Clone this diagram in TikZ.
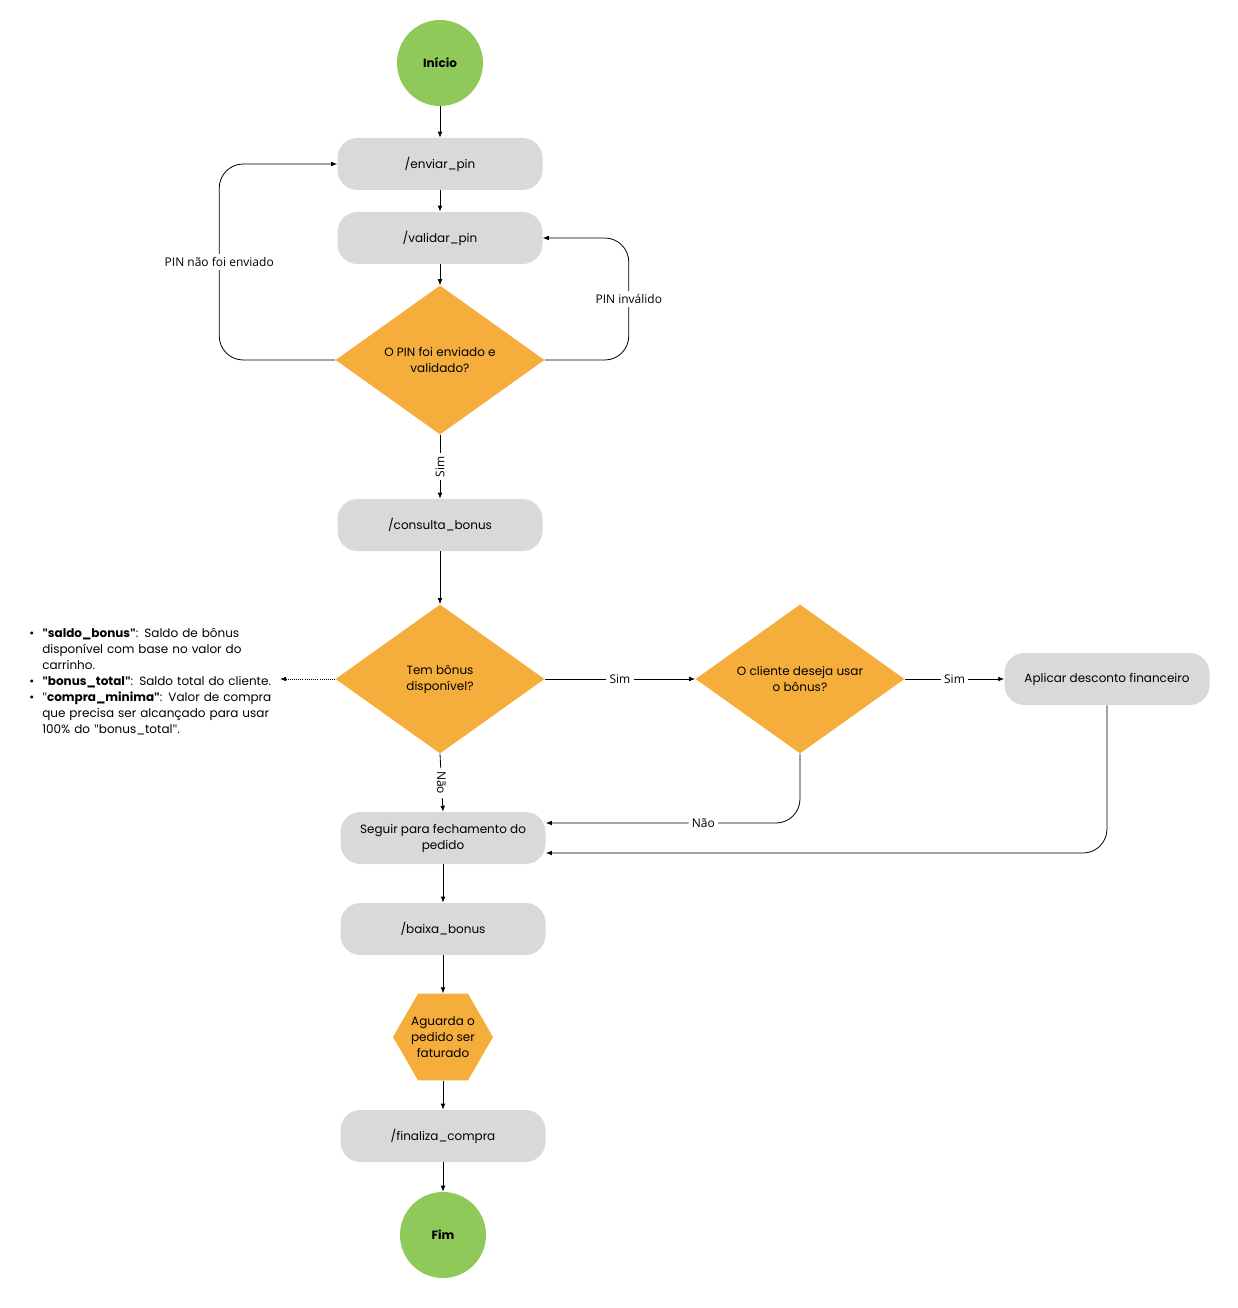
\documentclass[tikz,border=0pt]{standalone}
\usepackage{fontspec}
\setmainfont{Poppins}
\newfontfamily\edgefont{Open Sans}
\usepackage{enumitem}
\usetikzlibrary{shapes.geometric,arrows.meta}
\definecolor{termgreen}{HTML}{8FC95A}
\definecolor{askorange}{HTML}{F5AD3C}
\definecolor{callgray}{HTML}{D9D9D9}
\newcommand\dq{{\edgefont\char"22}}

\begin{document}
\begin{tikzpicture}[x=0.75pt,y=-0.75pt]
\tikzstyle{every node}+=[inner sep=0pt, font=\fontsize{9}{12}\selectfont]
\tikzstyle{endpoint}=[circle, fill=termgreen, minimum size=64.5pt, font=\fontsize{9}{12}\selectfont\bfseries]
\tikzstyle{callbox}=[rectangle, rounded corners=15pt, fill=callgray, minimum width=153.75pt, minimum height=39pt, align=center]
\tikzstyle{decision}=[diamond, aspect=1.4, fill=askorange, minimum width=156.75pt, minimum height=111.75pt, align=center]
\tikzstyle{waitbox}=[regular polygon, regular polygon sides=6, fill=askorange, minimum size=75pt]
\tikzstyle{flow}=[black, line width=0.6pt, -{Latex[length=4.5pt,width=3.5pt]}]
\tikzstyle{edgelabel}=[fill=white, inner sep=2.5pt, font=\edgefont\fontsize{9}{10}\selectfont]
\useasboundingbox (0,0) rectangle (1237,1308);
% main column
\node[endpoint] (inicio) at (440,63) {Início};
\node[callbox] (enviar) at (440,164) {/enviar\_pin};
\node[callbox] (validar) at (440,238) {/validar\_pin};
\node[decision] (pinok) at (440,360) {O PIN foi enviado e\\validado?};
\node[callbox] (consulta) at (440,525) {/consulta\_bonus};
\node[decision] (tembonus) at (440,679) {Tem bônus\\disponível?};
\node[decision] (usar) at (800,679) {O cliente deseja usar\\o bônus?};
\node[callbox] (aplicar) at (1107,679) {Aplicar desconto financeiro};
\node[callbox] (seguir) at (443,838) {Seguir para fechamento do\\pedido};
\node[callbox] (baixa) at (443,929) {/baixa\_bonus};
\node[waitbox, label={[align=center]center:{Aguarda o\\pedido ser\\faturado}}] (aguarda) at (443,1037) {};
\node[callbox] (finaliza) at (443,1136) {/finaliza\_compra};
\node[endpoint] (fim) at (443,1235) {Fim};
% note on the left
\node[anchor=west, text width=220pt, font=\fontsize{9}{12}\selectfont] (nota) at (22,678) {%
\begin{itemize}[leftmargin=15pt,labelsep=6pt,itemsep=0pt,topsep=0pt,parsep=0pt,partopsep=0pt]
\item \textbf{\dq saldo\_bonus\dq}: Saldo de bônus\newline disponível com base no valor do\newline carrinho.
\item \textbf{\dq bonus\_total\dq}: Saldo total do cliente.
\item \dq\textbf{compra\_minima\dq}: Valor de compra\newline que precisa ser alcançado para usar\newline 100\% do \dq bonus\_total\dq.
\end{itemize}};
\coordinate (notaptr) at (280,679);
% connectors
\draw[flow] (inicio) -- (enviar);
\draw[flow] (enviar) -- (validar);
\draw[flow] (validar) -- (pinok);
\draw[flow, rounded corners=18pt] (pinok.west) -- ++(-116,0) |- node[edgelabel, pos=0.25] {PIN não foi enviado} (enviar.west);
\draw[flow, rounded corners=18pt] (pinok.east) -- ++(84,0) |- node[edgelabel, pos=0.25] {PIN inválido} (validar.east);
\draw[flow] (pinok) -- node[edgelabel, rotate=90] {Sim} (consulta);
\draw[flow] (consulta) -- (tembonus);
\draw[flow] (tembonus) -- node[edgelabel] {Sim} (usar);
\draw[flow] (usar) -- node[edgelabel] {Sim} (aplicar);
\draw[flow] (tembonus.south) -- node[edgelabel, rotate=-90] {Não} (seguir.north);
\draw[flow, rounded corners=18pt] (usar.south) |- node[edgelabel, pos=0.69] {Não} ([yshift=11.25pt]seguir.east);
\draw[flow, rounded corners=18pt] (aplicar.south) |- ([yshift=-11.25pt]seguir.east);
\draw[flow] (seguir) -- (baixa);
\draw[flow] (baixa) -- (aguarda);
\draw[flow] (aguarda) -- (finaliza);
\draw[flow] (finaliza) -- (fim);
\draw[flow, densely dotted] (tembonus.west) -- (notaptr);
\end{tikzpicture}
\end{document}
